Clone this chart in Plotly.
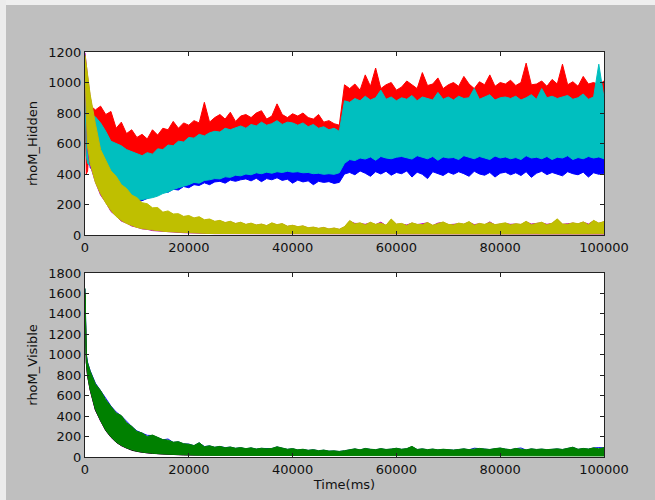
import plotly.graph_objects as go

# Sampling grid (ms): a few early samples, then one per second
t_ms = [0, 250, 500, 750] + list(range(1000, 100001, 1000))

# ---------------- rhoM_Hidden: envelope (upper / lower) of each trace ----------------
red_hi = [880, 860, 850, 840,
          850, 820, 845, 790, 810, 700, 740, 665, 690, 640,
          660, 630, 690, 655, 700, 690, 745, 700, 735, 720,
          750, 735, 870, 740, 770, 790, 760, 805, 745, 780,
          790, 770, 800, 815, 760, 780, 860, 790, 770, 795,
          780, 800, 770, 760, 790, 740, 750, 730, 720, 985,
          960, 990, 950, 1050, 975, 1095, 960, 985, 1000, 950,
          970, 1010, 985, 960, 1065, 980, 990, 1030, 960, 985,
          1000, 975, 1040, 990, 960, 1005, 985, 1050, 975, 1000,
          990, 1015, 980, 1000, 1127, 985, 990, 1010, 975, 1020,
          990, 1120, 985, 1005, 975, 1040, 990, 1000, 985, 1010]
red_lo = [860, 400, 420, 560,
          600, 600, 560, 520, 480, 470, 460, 450, 440, 430,
          430, 440, 450, 460, 480, 490, 500, 510, 520, 530,
          540, 550, 560, 570, 575, 580, 590, 595, 600, 600,
          605, 610, 610, 615, 615, 620, 620, 620, 620, 620,
          620, 620, 615, 610, 610, 605, 600, 600, 600, 760,
          760, 770, 770, 775, 775, 780, 780, 780, 780, 780,
          780, 775, 780, 785, 780, 775, 780, 785, 780, 780,
          785, 780, 775, 780, 785, 780, 780, 775, 780, 785,
          780, 780, 785, 780, 775, 780, 785, 780, 780, 775,
          780, 785, 780, 780, 775, 780, 785, 780, 780, 780]
cyan_hi = [1100, 850, 830, 820,
           790, 775, 735, 680, 615, 600, 585, 560, 545, 530,
           520, 540, 530, 565, 560, 590, 585, 615, 610, 640,
           635, 660, 650, 670, 680, 675, 700, 690, 705, 715,
           700, 725, 715, 740, 720, 730, 750, 725, 740, 735,
           720, 735, 710, 725, 700, 710, 690, 700, 680, 880,
           870, 895, 880, 910, 885, 900, 950, 890, 905, 880,
           900, 890, 915, 880, 905, 895, 885, 935, 890, 905,
           885, 910, 895, 900, 960, 890, 905, 920, 885, 900,
           905, 895, 910, 885, 900, 920, 890, 960, 900, 910,
           895, 905, 915, 890, 900, 925, 890, 905, 1120, 900]
cyan_lo = [1000, 520, 470, 460,
           450, 435, 400, 345, 320, 285, 270, 245, 238, 230,
           232, 238, 245, 255, 272, 282, 298, 310, 322, 330,
           345, 340, 358, 362, 370, 368, 382, 378, 392, 388,
           400, 395, 408, 402, 412, 405, 415, 410, 418, 412,
           415, 408, 410, 402, 405, 398, 402, 398, 408, 470,
           495, 488, 505, 498, 512, 490, 515, 505, 500, 510,
           515, 505, 498, 520, 510, 500, 515, 490, 512, 505,
           508, 495, 520, 510, 500, 515, 505, 495, 518, 505,
           512, 500, 508, 495, 520, 505, 510, 500, 515, 495,
           510, 505, 520, 495, 508, 500, 515, 505, 512, 500]
blue_hi = [1180, 760, 740, 730,
           720, 650, 560, 480, 440, 400, 380, 360, 350, 340,
           340, 345, 355, 365, 380, 395, 410, 420, 430, 440,
           448, 455, 462, 468, 475, 480, 485, 490, 495, 500,
           502, 505, 508, 510, 512, 515, 515, 518, 520, 520,
           518, 515, 515, 510, 510, 508, 505, 510, 520, 580,
           590, 595, 600, 600, 605, 605, 610, 610, 610, 615,
           615, 615, 620, 615, 615, 620, 615, 615, 620, 615,
           615, 620, 615, 615, 620, 615, 615, 620, 615, 615,
           620, 615, 615, 620, 615, 615, 620, 615, 615, 620,
           615, 615, 620, 615, 615, 620, 615, 615, 620, 615]
blue_lo = [1150, 700, 600, 520,
           440, 425, 385, 335, 305, 275, 255, 238, 228, 222,
           225, 240, 255, 262, 285, 280, 300, 295, 318, 310,
           330, 325, 342, 330, 348, 352, 340, 360, 352, 362,
           368, 355, 372, 350, 370, 362, 375, 358, 366, 340,
           360, 348, 355, 330, 352, 345, 350, 338, 345, 400,
           410, 395, 420, 405, 385, 415, 400, 418, 392, 410,
           402, 420, 380, 412, 398, 370, 415, 405, 390, 412,
           398, 415, 402, 385, 418, 400, 392, 410, 380, 405,
           412, 395, 408, 390, 415, 378, 405, 418, 396, 410,
           400, 388, 415, 402, 395, 412, 380, 408, 398, 405]
yellow_hi = [1180, 1120, 1060, 990,
             920, 730, 560, 490, 420, 385, 330, 305, 262, 245,
             212, 205, 178, 180, 150, 158, 138, 140, 122, 128,
             112, 120, 100, 105, 90, 96, 82, 90, 76, 84,
             70, 78, 66, 72, 62, 80, 68, 75, 58, 64,
             55, 60, 48, 52, 44, 50, 40, 46, 38, 55,
             95, 72, 80, 66, 84, 70, 78, 64, 105, 72,
             76, 62, 80, 70, 68, 82, 64, 74, 86, 70,
             66, 78, 72, 88, 64, 76, 70, 82, 68, 74,
             80, 66, 74, 70, 90, 68, 76, 84, 66, 78,
             106, 72, 70, 80, 74, 86, 68, 96, 78, 88]
yellow_lo = [1120, 800, 580, 520,
             470, 345, 270, 210, 160, 122, 95, 76, 62, 50,
             42, 36, 31, 28, 25, 22, 20, 18, 16, 14,
             13, 12, 11, 10, 10, 9, 9, 8, 8, 8,
             8, 7, 8, 7, 7, 8, 7, 7, 6, 7,
             7, 6, 7, 6, 6, 7, 6, 6, 6, 7,
             8, 7, 8, 7, 8, 7, 7, 8, 7, 8,
             7, 8, 7, 8, 7, 7, 8, 7, 8, 7,
             8, 7, 7, 8, 7, 8, 7, 8, 7, 7,
             7, 8, 7, 7, 8, 7, 8, 7, 7, 8,
             8, 7, 8, 7, 7, 8, 7, 8, 7, 8]
magenta_hi = [1195, 1100, 1040, 975,
              905, 715, 548, 478, 410, 372, 320, 294, 254, 236,
              205, 196, 172, 172, 146, 150, 134, 134, 118, 122,
              108, 114, 96, 100, 87, 92, 80, 86, 74, 80,
              68, 74, 64, 70, 60, 76, 66, 72, 56, 62,
              53, 58, 46, 50, 42, 48, 38, 44, 36, 52,
              90, 76, 76, 70, 80, 68, 84, 62, 100, 70,
              72, 66, 78, 68, 72, 80, 62, 78, 82, 68,
              70, 74, 70, 84, 68, 74, 66, 86, 66, 72,
              76, 70, 72, 68, 86, 72, 74, 80, 70, 76,
              102, 70, 74, 78, 72, 84, 72, 92, 76, 86]
magenta_lo = [1100, 780, 565, 505,
              458, 348, 262, 214, 154, 125, 91, 78, 59, 51,
              40, 37, 29, 28, 23, 22, 19, 18, 15, 14,
              12, 12, 10, 10, 9, 9, 8, 8, 7, 8,
              6, 6, 7, 6, 6, 7, 6, 6, 5, 6,
              6, 5, 6, 5, 5, 6, 5, 5, 5, 6,
              6, 6, 7, 6, 6, 6, 6, 7, 6, 6,
              6, 7, 6, 6, 6, 6, 7, 6, 6, 6,
              7, 6, 6, 6, 6, 7, 6, 6, 6, 6,
              6, 6, 6, 6, 7, 6, 6, 6, 6, 7,
              6, 6, 7, 6, 6, 6, 6, 7, 6, 6]

# ---------------- rhoM_Visible ----------------
green_hi = [1650, 1000, 920, 870,
            840, 715, 650, 560, 500, 430, 405, 335, 300, 250,
            235, 200, 215, 190, 170, 165, 145, 150, 130, 125,
            112, 140, 100, 110, 96, 104, 90, 98, 86, 92,
            82, 90, 78, 86, 80, 84, 100, 88, 76, 82,
            70, 76, 66, 72, 62, 68, 58, 60, 55, 62,
            72, 80, 70, 84, 76, 72, 82, 74, 78, 86,
            76, 82, 104, 74, 80, 72, 78, 70, 76, 72,
            68, 74, 80, 72, 76, 84, 78, 74, 82, 88,
            78, 72, 84, 76, 70, 80, 74, 78, 72, 76,
            80, 74, 82, 96, 76, 84, 78, 90, 80, 92]
green_lo = [1600, 930, 800, 720,
            660, 470, 355, 265, 198, 148, 114, 89, 70, 58,
            48, 42, 37, 33, 30, 27, 25, 23, 21, 20,
            18, 17, 16, 15, 14, 13, 13, 12, 12, 12,
            11, 11, 10, 11, 10, 10, 11, 10, 10, 10,
            10, 9, 10, 9, 9, 10, 9, 9, 9, 10,
            10, 10, 11, 10, 10, 11, 10, 10, 11, 10,
            10, 11, 10, 10, 11, 10, 10, 11, 10, 10,
            11, 10, 10, 11, 10, 10, 11, 10, 10, 11,
            10, 10, 11, 10, 10, 11, 10, 10, 11, 10,
            10, 11, 10, 10, 11, 10, 10, 11, 10, 10]
vis_blue = [1645, 1005, 925, 872,
            843, 722, 652, 575, 498, 440, 402, 348, 298, 255,
            232, 212, 210, 192, 168, 176, 142, 148, 128, 126,
            110, 138, 102, 108, 94, 102, 92, 96, 84, 90,
            80, 88, 76, 84, 82, 82, 98, 86, 74, 80,
            68, 74, 64, 70, 60, 66, 56, 58, 53, 60,
            70, 78, 68, 82, 74, 70, 80, 72, 76, 84,
            74, 80, 100, 72, 78, 70, 76, 68, 74, 70,
            66, 72, 78, 70, 86, 82, 76, 72, 80, 86,
            76, 70, 82, 88, 68, 78, 72, 76, 70, 74,
            78, 72, 80, 94, 74, 82, 76, 88, 92, 90]
vis_magenta = [1590, 915, 785, 705,
               652, 462, 350, 262, 192, 146, 110, 86, 68, 56,
               46, 40, 36, 32, 29, 26, 24, 22, 20, 19,
               20, 22, 20, 21, 20, 22, 20, 21, 20, 22,
               20, 21, 20, 22, 20, 21, 20, 22, 20, 21,
               20, 19, 20, 19, 20, 19, 20, 19, 20, 22,
               24, 25, 24, 26, 24, 25, 24, 26, 24, 25,
               24, 26, 24, 25, 24, 26, 24, 25, 24, 26,
               24, 25, 24, 26, 24, 25, 24, 26, 24, 25,
               24, 26, 24, 25, 24, 26, 24, 25, 24, 26,
               24, 25, 24, 26, 24, 25, 24, 26, 24, 25]
vis_black = [1585, 925, 795, 712,
             656, 458, 352, 258, 196, 144, 112, 86, 66, 55,
             45, 40, 35, 31, 28, 26, 24, 22, 20, 19,
             18, 19, 18, 19, 18, 19, 18, 19, 18, 19,
             18, 19, 18, 19, 18, 19, 18, 19, 18, 19,
             17, 18, 17, 18, 17, 18, 17, 18, 17, 19,
             20, 21, 20, 21, 20, 21, 20, 21, 20, 21,
             20, 21, 20, 21, 20, 21, 20, 21, 20, 21,
             20, 21, 20, 21, 20, 21, 20, 21, 20, 21,
             20, 21, 20, 21, 20, 21, 20, 21, 20, 21,
             20, 21, 20, 21, 20, 21, 20, 21, 20, 21]

for arr in (red_hi, red_lo, cyan_hi, cyan_lo, blue_hi, blue_lo, yellow_hi, yellow_lo,
            magenta_hi, magenta_lo, green_hi, green_lo, vis_blue, vis_magenta, vis_black):
    assert len(arr) == len(t_ms)

C_B, C_G, C_R, C_C, C_M, C_Y, C_K = "#0000ff", "#008000", "#ff0000", "#00bfbf", "#bf00bf", "#bfbf00", "#000000"

fig = go.Figure()


def band(hi, lo, color, xa, ya):
    fig.add_trace(go.Scatter(
        x=t_ms + t_ms[::-1], y=hi + lo[::-1], mode="lines", fill="toself",
        fillcolor=color, line=dict(color=color, width=1),
        xaxis=xa, yaxis=ya, hoverinfo="skip", showlegend=False))


def line(vals, color, xa, ya):
    fig.add_trace(go.Scatter(
        x=t_ms, y=vals, mode="lines", line=dict(color=color, width=1),
        xaxis=xa, yaxis=ya, hoverinfo="skip", showlegend=False))


# upper panel
band(blue_hi, blue_lo, C_B, "x", "y")
band(red_hi, red_lo, C_R, "x", "y")
band(cyan_hi, cyan_lo, C_C, "x", "y")
band(magenta_hi, magenta_lo, C_M, "x", "y")
band(yellow_hi, yellow_lo, C_Y, "x", "y")

# lower panel
line(vis_blue, C_B, "x2", "y2")
line(vis_magenta, C_M, "x2", "y2")
line(vis_black, C_K, "x2", "y2")
band(green_hi, green_lo, C_G, "x2", "y2")

FONT = dict(family="DejaVu Sans", size=13, color="#111111")
axis_common = dict(showline=True, linecolor="#222222", linewidth=1, mirror="ticks",
                   ticks="inside", ticklen=4, tickcolor="#222222", showgrid=False,
                   zeroline=False, tickfont=FONT)

x_common = dict(axis_common, range=[0, 100000], tickvals=[0, 20000, 40000, 60000, 80000, 100000],
                tickformat="d")

L, R, T, B = 85, 51, 52, 43
W, H = 655, 500
pw, ph = W - L - R, H - T - B


def px_x(p):
    return (p - L) / pw


def px_y(p):
    return (H - B - p) / ph


fig.update_layout(
    width=W, height=H,
    margin=dict(l=L, r=R, t=T, b=B),
    paper_bgcolor="#bfbfbf", plot_bgcolor="#ffffff",
    font=FONT,
    xaxis=dict(x_common, domain=[0, 1], anchor="y"),
    yaxis=dict(axis_common, domain=[px_y(235), 1], range=[0, 1200], dtick=200,
               title=dict(text="rhoM_Hidden", font=FONT, standoff=7)),
    xaxis2=dict(x_common, domain=[0, 1], anchor="y2",
                title=dict(text="Time(ms)", font=FONT, standoff=3)),
    yaxis2=dict(axis_common, domain=[0, px_y(273)], range=[0, 1800], dtick=200,
                title=dict(text="rhoM_Visible", font=FONT, standoff=7)),
    shapes=[
        dict(type="rect", xref="paper", yref="paper", x0=px_x(0), x1=px_x(W),
             y0=px_y(5), y1=px_y(0), fillcolor="#efefef", line=dict(width=0), layer="below"),
        dict(type="rect", xref="paper", yref="paper", x0=px_x(0), x1=px_x(6),
             y0=px_y(H), y1=px_y(0), fillcolor="#ececec", line=dict(width=0), layer="below"),
    ],
)

fig.write_html("out.html")
